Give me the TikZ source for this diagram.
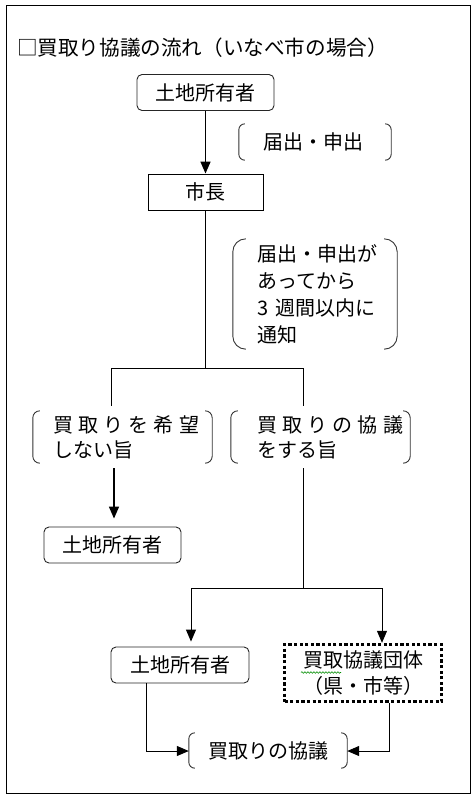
\documentclass[tikz,border=0pt]{standalone}
\usepackage{fontspec}
\setmainfont{Noto Sans CJK JP}
\usetikzlibrary{arrows.meta,decorations.pathmorphing}
\newcommand\brackpair[2]{%
  \draw[brkline] ([xshift=#2pt]#1.north west) arc[start angle=90,end angle=180,radius=#2pt]
     -- ([yshift=#2pt]#1.south west) arc[start angle=180,end angle=270,radius=#2pt];
  \draw[brkline] ([xshift=-#2pt]#1.north east) arc[start angle=90,end angle=0,radius=#2pt]
     -- ([yshift=#2pt]#1.south east) arc[start angle=0,end angle=-90,radius=#2pt];}
\begin{document}
\begin{tikzpicture}[x=1pt,y=1pt,
  every node/.style={font=\fontsize{20}{25}\selectfont, inner sep=0pt},
  ownbox/.style={draw=black!85, line width=0.9pt, rounded corners=5pt, minimum width=137pt, minimum height=36pt},
  plainbox/.style={draw=black, line width=0.9pt, minimum width=115pt, minimum height=36pt},
  brkline/.style={draw=black!80, line width=0.9pt},
  brknode/.style={align=left},
  dotbox/.style={draw=black, line width=3.4pt, dash pattern=on 3.2pt off 2.4pt, minimum width=157pt, minimum height=57pt, align=center, font=\fontsize{20}{26}\selectfont},
  ln/.style={line width=1pt},
  thk/.style={line width=1.5pt},
  tip/.style={-{Triangle[length=12pt,width=10pt]}}
]
\useasboundingbox (0,0) rectangle (476,-801);
\draw[line width=1pt] (6,-5) rectangle (470,-793);

\node[anchor=west, font=\fontsize{20.6}{25}\selectfont] (title) at (17,-48) {□買取り協議の流れ（いなべ市の場合）};

\node[ownbox] (own1) at (205.5,-92.5) {土地所有者};
\node[plainbox] (mayor) at (205.5,-192) {市長};

\node[brknode, inner xsep=24pt, text width=104pt, minimum height=36pt] (req) at (315,-142) {届出・申出};
\brackpair{req}{6}

\node[brknode, inner xsep=24pt, text width=116pt, minimum height=110pt, font=\fontsize{20}{27}\selectfont] (notice) at (315,-294) {届出・申出が\\あってから\\\mbox{3\kern7pt 週間以内に}\\通知};
\brackpair{notice}{13}

\node[brknode, inner xsep=20pt, text width=139pt, minimum height=52pt] (no) at (122.5,-437) {買\kern5.2pt 取\kern5.2pt り\kern5.2pt を\kern5.2pt 希\kern5.2pt 望\\しない旨};
\brackpair{no}{7}

\node[brknode, inner xsep=26pt, text width=127pt, minimum height=52pt] (yes) at (320.5,-437) {買\kern5.2pt 取\kern5.2pt り\kern5.2pt の\kern5.2pt 協\kern5.2pt 議\\をする旨};
\brackpair{yes}{7}

\node[ownbox] (own2) at (112.5,-545) {土地所有者};
\node[ownbox, minimum width=138pt] (own3) at (180,-665) {土地所有者};
\node[dotbox] (kyo) at (363,-673) {買取協議団体\\（県・市等）};
\draw[green!55!black, line width=0.6pt, decorate, decoration={snake, amplitude=0.8pt, segment length=3pt}] (301,-672.5) -- (341,-672.5);

\node[minimum width=158pt, minimum height=35pt] (talk) at (268,-750.5) {買取りの協議};
\brackpair{talk}{6}

% connectors
\draw[thk, tip] (own1) -- (mayor);
\coordinate (jl) at (111,-368);
\coordinate (jr) at (303,-368);
\draw[ln] (mayor.south) -- (mayor.south |- jl);
\draw[ln] (jl) -- (jr);
\draw[ln, shorten >=5pt] (jl) -- (jl |- no.north);
\draw[ln, shorten >=5pt] (jr) -- (jr |- yes.north);

\coordinate (x3) at (114,-500);
\draw[thk, tip, shorten <=5pt, shorten >=8pt] (x3 |- no.south) -- (x3 |- own2.north);

\coordinate (jm) at (303,-588);
\coordinate (jl2) at (191,-588);
\coordinate (jr2) at (382,-588);
\draw[ln, shorten <=5pt] (jm |- yes.south) -- (jm);
\draw[ln, tip, shorten >=5pt] (jm) -- (jl2) -- (jl2 |- own3.north);
\draw[ln, tip] (jm) -- (jr2) -- (jr2 |- kyo.north);

\coordinate (bl) at (146,-751);
\coordinate (br) at (389,-751);
\draw[ln, tip] (own3.south -| bl) -- (bl) -- (talk.west |- bl);
\draw[ln, tip] (kyo.south -| br) -- (br) -- (talk.east |- br);
\end{tikzpicture}
\end{document}
